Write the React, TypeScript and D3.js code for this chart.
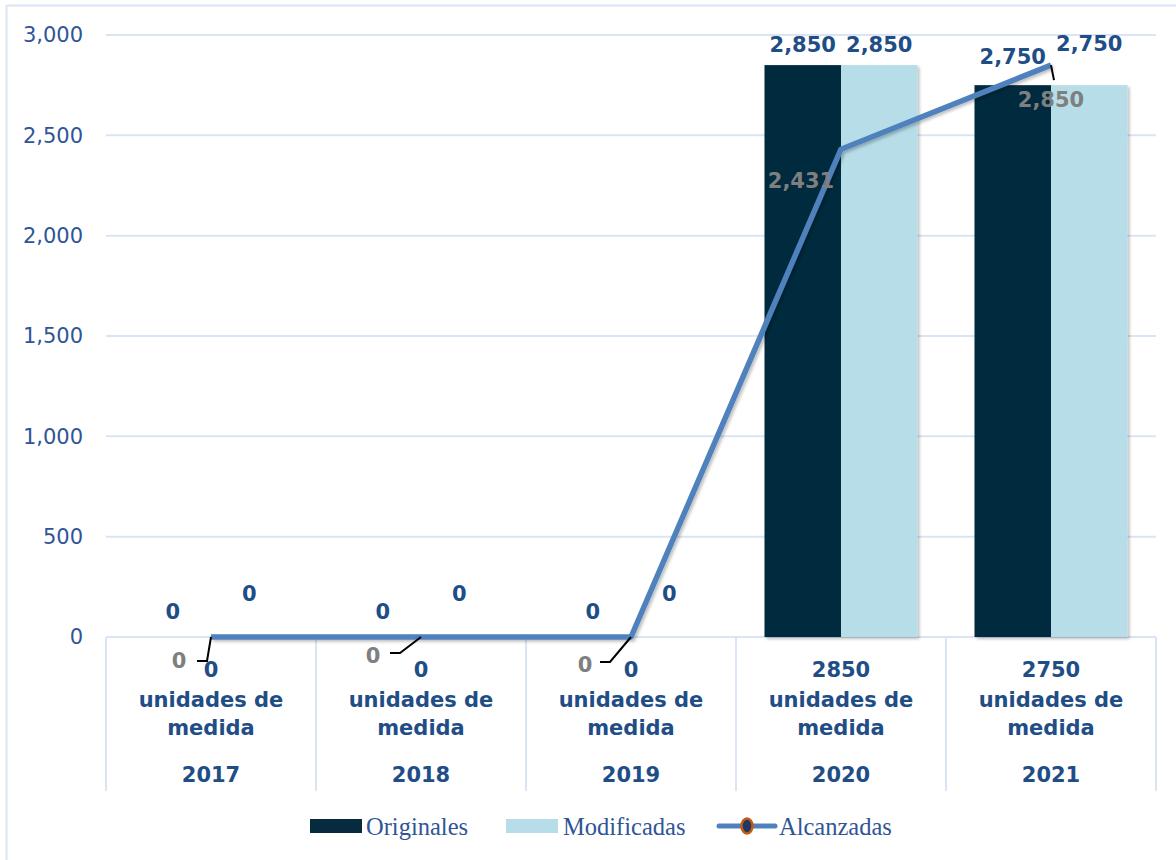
import React from "react";
import * as d3 from "d3";

const years = ["2017", "2018", "2019", "2020", "2021"];
const metas = ["0", "0", "0", "2850", "2750"];
const originales = [0, 0, 0, 2850, 2750];
const modificadas = [0, 0, 0, 2850, 2750];
const alcanzadas = [0, 0, 0, 2431, 2850];
const yTicks = [0, 500, 1000, 1500, 2000, 2500, 3000];

// label offsets (style, in px) mimicking the manually placed Excel labels
const origDy = [-18, -18, -18, -13, -21];
const modDy = [-36, -36, -36, -13, -34];
const alcLabel = [
  { dx: -32, dy: 24, leader: [[0, 0], [-4, 24], [-14, 24]] },
  { dx: -48, dy: 19, leader: [[0, 0], [-21, 16], [-31, 16]] },
  { dx: -46, dy: 28, leader: [[0, 0], [-21, 25], [-31, 25]] },
  { dx: -40, dy: 31, leader: null },
  { dx: 0, dy: 35, leader: [[0, 0], [3, 15]] },
];

const W = 1176;
const H = 860;
const BLUE_TXT = "#2f5597";
const LABEL = "#1f4e87";
const GRID = "#d9e5f5";
const DARK = "#062a3e";
const LIGHT = "#b6dde8";
const LINE = "#4f81bd";
const GRAY = "#7f7f7f";

export default function App() {
  const x = d3.scaleBand<string>().domain(years).range([106, 1156]).padding(0);
  const y = d3.scaleLinear().domain([0, 3000]).range([637, 35]);
  const bw = 76.5;
  const cx = (i: number) => (x(years[i]) as number) + x.bandwidth() / 2;
  const fmt = d3.format(",");
  const line = d3
    .line<number>()
    .x((_, i) => cx(i))
    .y((d) => y(d));

  const sans = "'DejaVu Sans', sans-serif";
  const serif = "'Liberation Serif', serif";

  return (
    <svg
      width={W}
      height={H}
      style={{ position: "absolute", left: 0, top: 0, background: "#fff" }}
    >
      <defs>
        <filter id="sh" x="-20%" y="-20%" width="140%" height="140%">
          <feDropShadow dx="2" dy="2" stdDeviation="1.5" floodColor="#000" floodOpacity="0.25" />
        </filter>
      </defs>
      <rect x={0} y={0} width={W} height={H} fill="#fff" />
      {/* outer border */}
      <line x1={6.5} x2={6.5} y1={5} y2={H} stroke={GRID} strokeWidth={2} />
      <line x1={6} x2={W} y1={5.5} y2={5.5} stroke={GRID} strokeWidth={2} />

      {/* gridlines */}
      {yTicks.map((t) => (
        <line key={t} x1={106} x2={1156} y1={y(t)} y2={y(t)} stroke={GRID} strokeWidth={2} />
      ))}
      {/* y tick labels */}
      {yTicks.map((t) => (
        <text
          key={"l" + t}
          x={83}
          y={y(t)}
          dy="0.35em"
          textAnchor="end"
          fontFamily={sans}
          fontSize={21}
          fill={BLUE_TXT}
        >
          {fmt(t)}
        </text>
      ))}

      {/* category separators */}
      {[...years.map((yr) => x(yr) as number), 1156].map((xx, i) => (
        <line key={"s" + i} x1={xx} x2={xx} y1={637} y2={791} stroke={GRID} strokeWidth={2} />
      ))}

      {/* bars */}
      <g filter="url(#sh)">
        {originales.map((v, i) => (
          <rect key={"o" + i} x={cx(i) - bw} y={y(v)} width={bw} height={637 - y(v)} fill={DARK} />
        ))}
        {modificadas.map((v, i) => (
          <rect key={"m" + i} x={cx(i)} y={y(v)} width={bw} height={637 - y(v)} fill={LIGHT} />
        ))}
      </g>

      {/* line */}
      <path
        d={line(alcanzadas) as string}
        fill="none"
        stroke={LINE}
        strokeWidth={5.5}
        strokeLinejoin="round"
        filter="url(#sh)"
      />

      {/* bar labels */}
      {originales.map((v, i) => (
        <text
          key={"ol" + i}
          x={cx(i) - bw / 2}
          y={y(v) + origDy[i]}
          textAnchor="middle"
          fontFamily={sans}
          fontWeight="bold"
          fontSize={21}
          fill={LABEL}
        >
          {fmt(v)}
        </text>
      ))}
      {modificadas.map((v, i) => (
        <text
          key={"ml" + i}
          x={cx(i) + bw / 2}
          y={y(v) + modDy[i]}
          textAnchor="middle"
          fontFamily={sans}
          fontWeight="bold"
          fontSize={21}
          fill={LABEL}
        >
          {fmt(v)}
        </text>
      ))}

      {/* line labels + leaders */}
      {alcanzadas.map((v, i) => {
        const px = cx(i);
        const py = y(v);
        const a = alcLabel[i];
        return (
          <g key={"al" + i}>
            {a.leader && (
              <polyline
                points={a.leader.map(([dx, dy]) => `${px + dx},${py + dy}`).join(" ")}
                fill="none"
                stroke="#000"
                strokeWidth={2}
              />
            )}
            <text
              x={px + a.dx}
              y={py + a.dy}
              dy="0.35em"
              textAnchor="middle"
              fontFamily={sans}
              fontWeight="bold"
              fontSize={21}
              fill={GRAY}
            >
              {fmt(v)}
            </text>
          </g>
        );
      })}

      {/* category labels */}
      {years.map((yr, i) => (
        <g key={"c" + yr} fontFamily={sans} fontWeight="bold" fontSize={21} fill={LABEL} textAnchor="middle">
          <text x={cx(i)} y={670} dy="0.35em">{metas[i]}</text>
          <text x={cx(i)} y={700} dy="0.35em">unidades de</text>
          <text x={cx(i)} y={728} dy="0.35em">medida</text>
          <text x={cx(i)} y={775} dy="0.35em">{yr}</text>
        </g>
      ))}

      {/* legend */}
      <g fontFamily={serif} fontSize={24.5} fill={BLUE_TXT}>
        <rect x={310} y={819} width={52} height={14} fill={DARK} />
        <text x={366} y={826} dy="0.35em">Originales</text>
        <rect x={506} y={819} width={52} height={14} fill={LIGHT} />
        <text x={563} y={826} dy="0.35em">Modificadas</text>
        <line x1={719} x2={775} y1={826} y2={826} stroke={LINE} strokeWidth={5} strokeLinecap="round" />
        <ellipse cx={747} cy={826} rx={5.5} ry={7.5} fill="#1f3864" stroke="#c55a11" strokeWidth={2.5} />
        <text x={779} y={826} dy="0.35em">Alcanzadas</text>
      </g>
    </svg>
  );
}
